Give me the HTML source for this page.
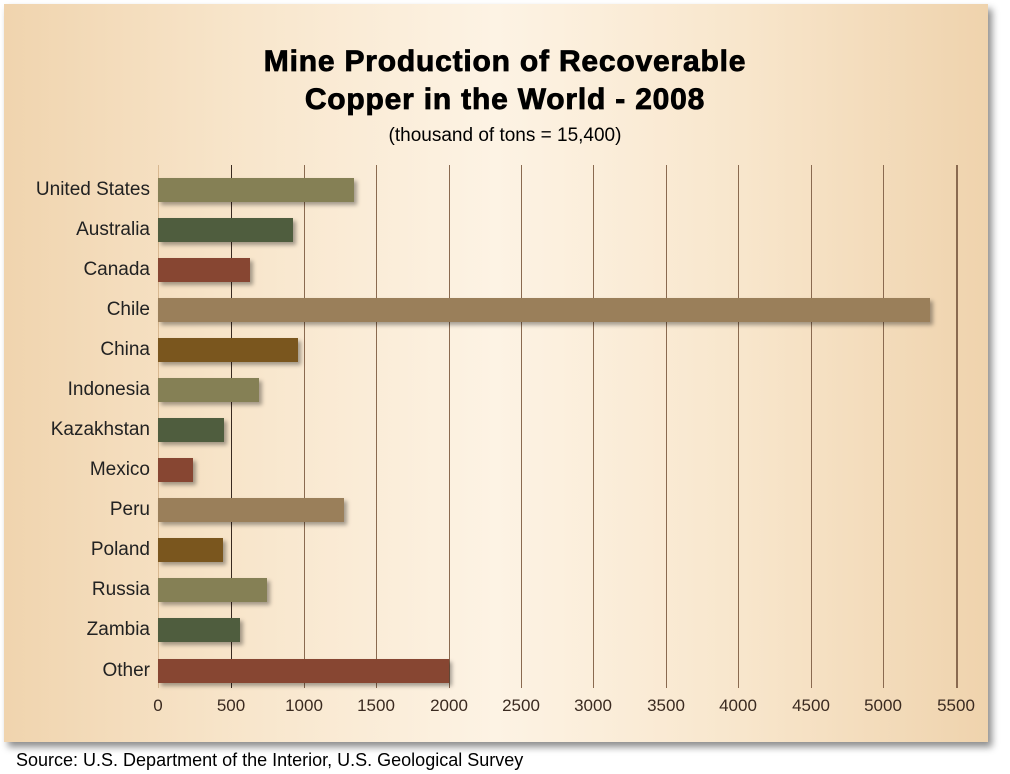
<!DOCTYPE html>
<html><head><style>
body{margin:0;width:1010px;height:774px;background:#fff;position:relative;overflow:hidden;font-family:"Liberation Sans",sans-serif}
#p{position:absolute;left:4px;top:4px;width:984px;height:738px;background:linear-gradient(90deg,#f0d4ae 0%,#f8e6cc 25%,#fdf3e4 50%,#f8e6cc 75%,#efd3ad 100%);box-shadow:4px 5px 7px rgba(0,0,0,0.45)}
.t{position:absolute;left:0;width:1010px;text-align:center;font-weight:bold;font-size:30px;letter-spacing:0.8px;color:#000;-webkit-text-stroke:0.8px #000}
.g{position:absolute;top:165px;height:523px;width:1px;background:#8a6a50}
.b{position:absolute;height:24px;box-shadow:3px 3px 4px rgba(0,0,0,0.35)}
.l{position:absolute;right:860px;font-size:19px;color:#222;text-align:right;white-space:nowrap}
.x{position:absolute;top:696px;font-size:17px;color:#3a2a20;width:60px;margin-left:-30px;text-align:center}
</style></head><body>
<div id="p"></div>
<div class="t" style="top:45px">Mine Production of Recoverable</div>
<div class="t" style="top:83px">Copper in the World - 2008</div>
<div style="position:absolute;left:0;width:1010px;text-align:center;top:125px;font-size:19px">(thousand of tons = 15,400)</div>
<div class="g" style="left:158px;background:#d8b890"></div>
<div class="g" style="left:231px;background:#3a2a20"></div>
<div class="g" style="left:304px"></div>
<div class="g" style="left:376px"></div>
<div class="g" style="left:449px"></div>
<div class="g" style="left:521px"></div>
<div class="g" style="left:593px"></div>
<div class="g" style="left:666px"></div>
<div class="g" style="left:738px"></div>
<div class="g" style="left:811px"></div>
<div class="g" style="left:883px"></div>
<div class="g" style="left:956px;width:2px"></div>
<div class="b" style="left:158px;top:178px;width:196px;background:#858055"></div>
<div class="b" style="left:158px;top:218px;width:135px;background:#4f5d3e"></div>
<div class="b" style="left:158px;top:258px;width:92px;background:#874632"></div>
<div class="b" style="left:158px;top:298px;width:772px;background:#9a7f5a"></div>
<div class="b" style="left:158px;top:338px;width:140px;background:#7a561e"></div>
<div class="b" style="left:158px;top:378px;width:101px;background:#858055"></div>
<div class="b" style="left:158px;top:418px;width:66px;background:#4f5d3e"></div>
<div class="b" style="left:158px;top:458px;width:35px;background:#874632"></div>
<div class="b" style="left:158px;top:498px;width:186px;background:#9a7f5a"></div>
<div class="b" style="left:158px;top:538px;width:65px;background:#7a561e"></div>
<div class="b" style="left:158px;top:578px;width:109px;background:#858055"></div>
<div class="b" style="left:158px;top:618px;width:82px;background:#4f5d3e"></div>
<div class="b" style="left:158px;top:659px;width:291px;background:#874632"></div>
<div class="l" style="top:179px">United States</div>
<div class="l" style="top:219px">Australia</div>
<div class="l" style="top:259px">Canada</div>
<div class="l" style="top:299px">Chile</div>
<div class="l" style="top:339px">China</div>
<div class="l" style="top:379px">Indonesia</div>
<div class="l" style="top:419px">Kazakhstan</div>
<div class="l" style="top:459px">Mexico</div>
<div class="l" style="top:499px">Peru</div>
<div class="l" style="top:539px">Poland</div>
<div class="l" style="top:579px">Russia</div>
<div class="l" style="top:619px">Zambia</div>
<div class="l" style="top:660px">Other</div>
<div class="x" style="left:158px">0</div>
<div class="x" style="left:231px">500</div>
<div class="x" style="left:304px">1000</div>
<div class="x" style="left:376px">1500</div>
<div class="x" style="left:449px">2000</div>
<div class="x" style="left:521px">2500</div>
<div class="x" style="left:593px">3000</div>
<div class="x" style="left:666px">3500</div>
<div class="x" style="left:738px">4000</div>
<div class="x" style="left:811px">4500</div>
<div class="x" style="left:883px">5000</div>
<div class="x" style="left:956px">5500</div>
<div style="position:absolute;left:16px;top:750px;font-size:18px;color:#000">Source: U.S. Department of the Interior, U.S. Geological Survey</div>
</body></html>
